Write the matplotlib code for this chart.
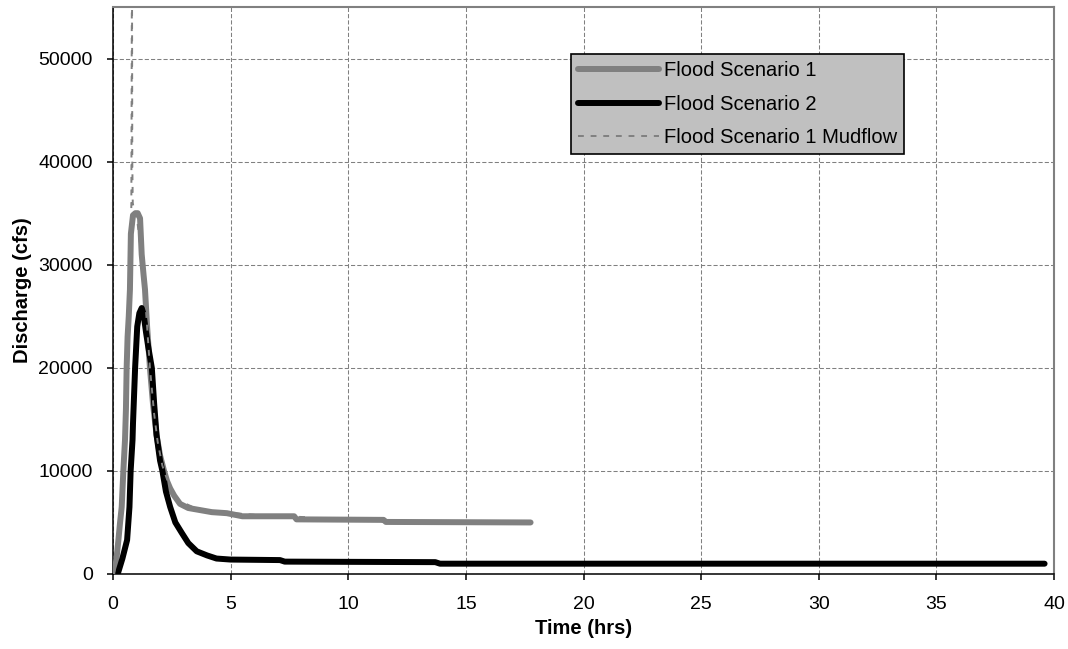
import matplotlib
matplotlib.use("Agg")
import matplotlib.pyplot as plt

plt.rcParams['font.family'] = ['Liberation Sans', 'DejaVu Sans']

# Flood Scenario 1 (time in hrs, discharge in cfs)
time_s1 = [0.05, 0.15, 0.23, 0.3, 0.37, 0.44, 0.51, 0.55, 0.58, 0.62, 0.67, 0.72,
           0.76, 0.85, 0.95, 1.05, 1.15, 1.22, 1.3, 1.36, 1.45, 1.57, 1.7, 1.85,
           2.0, 2.17, 2.3, 2.43, 2.6, 2.85, 3.2, 3.7, 4.2, 4.84, 5.5, 7.7, 7.8,
           11.5, 11.6, 17.75]
flow_s1 = [0, 1500, 3300, 5000, 6500, 10000, 13000, 16000, 20000, 23000, 25000, 27600,
           33000, 34800, 35000, 35000, 34500, 31000, 29000, 27600, 24000, 20000, 16500, 13500,
           11500, 10000, 9000, 8300, 7600, 6800, 6400, 6200, 6000, 5900, 5600, 5600, 5300,
           5250, 5050, 5000]

# Flood Scenario 2
time_s2 = [0.2, 0.4, 0.6, 0.7, 0.75, 0.83, 0.85, 0.94, 1.03, 1.12, 1.22, 1.3, 1.4,
           1.5, 1.65, 1.75, 1.85, 2.0, 2.1, 2.25, 2.43, 2.65, 2.92, 3.2, 3.56, 4.0,
           4.4, 5.0, 7.1, 7.3, 13.7, 13.9, 39.6]
flow_s2 = [0, 1500, 3300, 6500, 10000, 13000, 14600, 20000, 24000, 25300, 25800, 25200, 23500,
           22000, 20000, 16500, 13500, 11000, 10000, 8000, 6500, 5000, 4000, 3000, 2200, 1800,
           1500, 1400, 1350, 1200, 1150, 1000, 1000]

# Flood Scenario 1 Mudflow
time_mud = [0.05, 0.23, 0.44, 0.58, 0.67, 0.72, 0.75, 0.78, 0.8, 0.81, 0.82, 0.84,
            0.9, 1.0, 1.1, 1.22, 1.36, 1.57, 1.75, 1.9, 2.1, 2.4, 2.8, 3.5, 4.5, 6.0, 8.3]
flow_mud = [0, 3300, 10000, 20000, 25000, 27600, 30000, 36000, 54900, 54900, 40000, 36000,
            35200, 34800, 33000, 30500, 27000, 20000, 15500, 12800, 10500, 8500, 7100, 6400,
            6000, 5750, 5500]

x_ticks = [0, 5, 10, 15, 20, 25, 30, 35, 40]
y_ticks = [0, 10000, 20000, 30000, 40000, 50000]

fig = plt.figure(figsize=(10.68, 6.49), dpi=100)
ax = fig.add_axes([113 / 1068, 75 / 649, 941 / 1068, 567 / 649])

ax.plot(time_s1, flow_s1, color='#808080', lw=4.3, solid_joinstyle='round',
        solid_capstyle='round', label='Flood Scenario 1', zorder=3)
ax.plot(time_s2, flow_s2, color='black', lw=4.3, solid_joinstyle='round',
        solid_capstyle='round', label='Flood Scenario 2', zorder=4)
ax.plot(time_mud, flow_mud, color='#808080', lw=1.4, linestyle=(0, (3, 3.5)),
        label='Flood Scenario 1 Mudflow', zorder=5)

ax.set_xlim(0, 40)
ax.set_ylim(0, 55000)
ax.set_xticks(x_ticks)
ax.set_yticks(y_ticks)
ax.set_xticklabels([str(v) for v in x_ticks])
ax.set_yticklabels([str(v) for v in y_ticks])

ax.grid(True, color='#808080', lw=0.75, linestyle=(0, (4, 2)), zorder=0)
ax.set_axisbelow(True)

for side in ['left', 'bottom']:
    ax.spines[side].set_color('black')
    ax.spines[side].set_linewidth(1.1)
for side in ['top', 'right']:
    ax.spines[side].set_color('#808080')
    ax.spines[side].set_linewidth(1.5)

ax.tick_params(axis='both', direction='out', length=4.5, width=1.1, labelsize=14,
               colors='black')
ax.tick_params(axis='x', pad=11)
ax.tick_params(axis='y', pad=10)

ax.set_xlabel('Time (hrs)', fontsize=14.5, fontweight='bold', labelpad=5)
ax.set_ylabel('Discharge (cfs)', fontsize=14.5, fontweight='bold', labelpad=4.5)

leg = ax.legend(loc='upper left', bbox_to_anchor=(0.4867, 0.917), borderaxespad=0,
                fontsize=14.5, fancybox=False, framealpha=1, facecolor='#C0C0C0',
                edgecolor='black', handlelength=4.0, handletextpad=0.25,
                labelspacing=0.72, borderpad=0.35)
leg.get_frame().set_linewidth(1.2)

fig.savefig('out.png', dpi=100)
